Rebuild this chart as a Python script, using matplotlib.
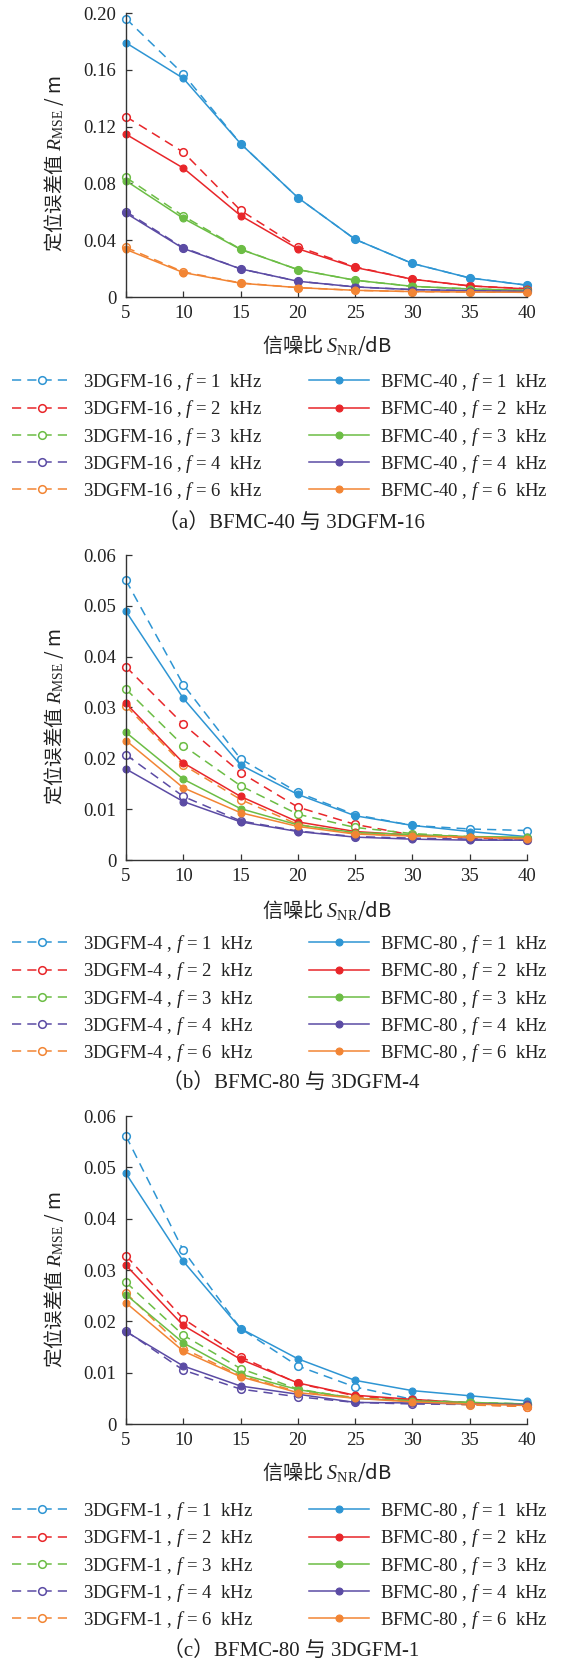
import matplotlib
matplotlib.use('Agg')
import matplotlib.pyplot as plt

plt.rcParams['font.family'] = ['Liberation Serif', 'Noto Sans CJK SC']
plt.rcParams['mathtext.fontset'] = 'custom'
plt.rcParams['mathtext.rm'] = 'Liberation Serif'
plt.rcParams['mathtext.it'] = 'Liberation Serif:italic'
plt.rcParams['mathtext.bf'] = 'Liberation Serif:bold'

# ---------------- data ----------------
snr = [5, 10, 15, 20, 25, 30, 35, 40]
freq_labels = ['1', '2', '3', '4', '6']
colors = ['#2E95D3', '#E8262A', '#6CBD45', '#5B4BA4', '#F28534']

# panel (a): 3DGFM-16 (dashed, open) vs BFMC-40 (solid, filled)
a_gfm = [
    [0.196, 0.157, 0.108, 0.070, 0.0406, 0.0236, 0.0134, 0.0083],
    [0.127, 0.102, 0.061, 0.0354, 0.0212, 0.0125, 0.0078, 0.0059],
    [0.0842, 0.057, 0.0337, 0.0193, 0.0118, 0.0075, 0.0057, 0.0047],
    [0.0601, 0.0347, 0.0198, 0.0111, 0.0071, 0.0052, 0.0045, 0.0040],
    [0.0349, 0.0177, 0.0099, 0.0066, 0.0047, 0.0038, 0.0035, 0.0033],
]
a_bfmc = [
    [0.179, 0.154, 0.108, 0.070, 0.0406, 0.0236, 0.0134, 0.0083],
    [0.1146, 0.0908, 0.0573, 0.034, 0.0208, 0.0125, 0.0078, 0.0057],
    [0.0818, 0.0554, 0.0335, 0.0193, 0.0118, 0.0075, 0.0057, 0.0047],
    [0.059, 0.0342, 0.0198, 0.0111, 0.0071, 0.0052, 0.0045, 0.0040],
    [0.0335, 0.0172, 0.0097, 0.0066, 0.0047, 0.0038, 0.0035, 0.0033],
]
# panel (b): 3DGFM-4 vs BFMC-80
b_gfm = [
    [0.0550, 0.0345, 0.0199, 0.0133, 0.0089, 0.0068, 0.0061, 0.0058],
    [0.0380, 0.0267, 0.0172, 0.0104, 0.0070, 0.0049, 0.0043, 0.0041],
    [0.0336, 0.0225, 0.0146, 0.0090, 0.0064, 0.0052, 0.0046, 0.0043],
    [0.0207, 0.0125, 0.0077, 0.0057, 0.0046, 0.0043, 0.0041, 0.0039],
    [0.0303, 0.0187, 0.0119, 0.0070, 0.0052, 0.0047, 0.0045, 0.0042],
]
b_bfmc = [
    [0.0489, 0.0318, 0.0187, 0.0129, 0.0087, 0.0068, 0.0056, 0.0046],
    [0.0308, 0.0191, 0.0125, 0.0075, 0.0056, 0.0049, 0.0045, 0.0043],
    [0.0251, 0.0159, 0.0101, 0.0069, 0.0054, 0.0050, 0.0046, 0.0045],
    [0.0179, 0.0115, 0.0075, 0.0056, 0.0045, 0.0041, 0.0039, 0.0039],
    [0.0235, 0.0142, 0.0093, 0.0066, 0.0051, 0.0047, 0.0045, 0.0042],
]
# panel (c): 3DGFM-1 vs BFMC-80
c_gfm = [
    [0.0561, 0.0338, 0.0186, 0.0113, 0.0072, 0.0048, 0.0041, 0.0039],
    [0.0328, 0.0205, 0.0131, 0.0079, 0.0055, 0.0045, 0.0038, 0.0034],
    [0.0276, 0.0173, 0.0108, 0.0068, 0.0050, 0.0047, 0.0042, 0.0039],
    [0.0181, 0.0105, 0.0068, 0.0053, 0.0042, 0.0039, 0.0038, 0.0037],
    [0.0255, 0.0147, 0.0094, 0.0063, 0.0052, 0.0043, 0.0037, 0.0034],
]
c_bfmc = [
    [0.0488, 0.0317, 0.0186, 0.0127, 0.0085, 0.0065, 0.0055, 0.0045],
    [0.0309, 0.0192, 0.0126, 0.0080, 0.0056, 0.0048, 0.0041, 0.0037],
    [0.0252, 0.0158, 0.0097, 0.0067, 0.0050, 0.0045, 0.0042, 0.0039],
    [0.0180, 0.0113, 0.0074, 0.0058, 0.0042, 0.0041, 0.0039, 0.0038],
    [0.0236, 0.0142, 0.0092, 0.0061, 0.0050, 0.0043, 0.0039, 0.0036],
]

yticks_a = [0, 0.04, 0.08, 0.12, 0.16, 0.20]
yticks_bc = [0, 0.01, 0.02, 0.03, 0.04, 0.05, 0.06]

panels = [
    dict(gfm=a_gfm, bfmc=a_bfmc, gname='3DGFM-16', bname='BFMC-40',
         yticks=yticks_a, caption='（a）BFMC-40 与 3DGFM-16'),
    dict(gfm=b_gfm, bfmc=b_bfmc, gname='3DGFM-4', bname='BFMC-80',
         yticks=yticks_bc, caption='（b）BFMC-80 与 3DGFM-4'),
    dict(gfm=c_gfm, bfmc=c_bfmc, gname='3DGFM-1', bname='BFMC-80',
         yticks=yticks_bc, caption='（c）BFMC-80 与 3DGFM-1'),
]

# ---------------- layout (pixels) ----------------
W, H = 582, 1660
ax_px = [  # left, top, right, bottom
    (126, 13, 527, 297),
    (126, 555, 527, 860),
    (126, 1116, 527, 1424),
]
xlabel_y = [345, 910, 1472]
legend_top = [371, 933, 1500]
legend_x = [12, 309]
caption_y = [523, 1083, 1651]

text_color = '#222222'
spine_color = '#333333'
dash = (0, (6, 4))
cjk = ['Noto Sans CJK SC', 'Liberation Serif']

fig = plt.figure(figsize=(W / 100, H / 100), dpi=100)

for i, p in enumerate(panels):
    l, t, r, b = ax_px[i]
    ax = fig.add_axes([l / W, 1 - b / H, (r - l) / W, (b - t) / H])
    handles_g, handles_b = [], []
    for k in range(5):
        hg, = ax.plot(snr, p['gfm'][k], color=colors[k], ls=dash, lw=1.1,
                      marker='o', ms=5.5, mfc='white', mew=1.1, clip_on=False,
                      label=f"{p['gname']} , $f$ = {freq_labels[k]}  kHz")
        handles_g.append(hg)
    for k in range(5):
        hb, = ax.plot(snr, p['bfmc'][k], color=colors[k], ls='-', lw=1.1,
                      marker='o', ms=5, mfc=colors[k], mew=0.8, clip_on=False,
                      label=f"{p['bname']} , $f$ = {freq_labels[k]}  kHz")
        handles_b.append(hb)

    ax.set_xlim(5, 40)
    ax.set_ylim(0, p['yticks'][-1])
    ax.set_xticks(snr)
    ax.set_xticklabels([str(v) for v in snr])
    ax.set_yticks(p['yticks'])
    ax.set_yticklabels(['0' if v == 0 else f'{v:.2f}' for v in p['yticks']])
    for s in ['top', 'right']:
        ax.spines[s].set_visible(False)
    for s in ['left', 'bottom']:
        ax.spines[s].set_color(spine_color)
        ax.spines[s].set_linewidth(1.0)
    ax.tick_params(direction='in', length=4, width=0.9, color=spine_color,
                   labelsize=13.5, labelcolor=text_color)
    ax.tick_params(axis='y', pad=7)
    ax.tick_params(axis='x', pad=6)

    ax.set_xlabel('信噪比 $S_{\\mathrm{NR}}$/dB', fontsize=14.5,
                  color=text_color, va='center', fontfamily=cjk)
    ax.xaxis.set_label_coords(0.5, -(xlabel_y[i] - b) / (b - t))
    ax.set_ylabel('定位误差值 $R_{\\mathrm{MSE}}$ / m', fontsize=14,
                  color=text_color, va='center', fontfamily=cjk)
    ax.yaxis.set_label_coords((54 - l) / (r - l), 0.47)

    for col, hs in enumerate([handles_g, handles_b]):
        leg = fig.legend(hs, [h.get_label() for h in hs],
                         ncol=1, loc='upper left',
                         bbox_to_anchor=(legend_x[col] / W,
                                         1 - legend_top[i] / H),
                         frameon=False, fontsize=13.5, borderpad=0,
                         borderaxespad=0, handlelength=3.2, handletextpad=0.6,
                         labelspacing=0.28, numpoints=1)
        for txt in leg.get_texts():
            txt.set_color(text_color)

    fig.text(0.5, 1 - caption_y[i] / H, p['caption'], ha='center',
             va='center', fontsize=15, color=text_color)

fig.savefig('out.png', dpi=100)
